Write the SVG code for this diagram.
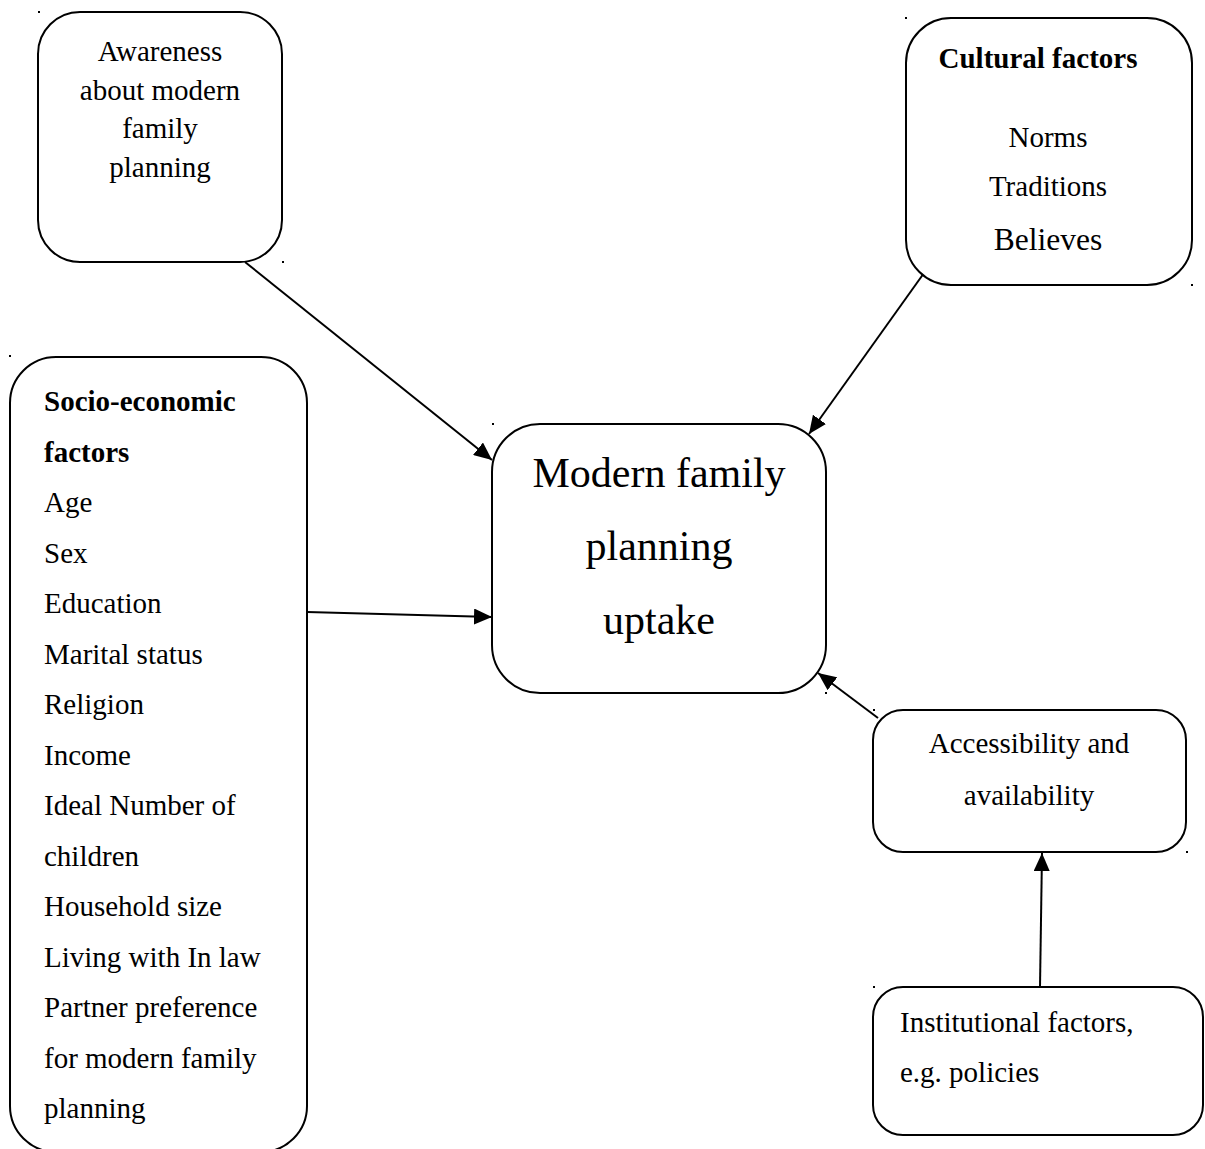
<svg xmlns="http://www.w3.org/2000/svg" width="1205" height="1149" viewBox="0 0 1205 1149">
<defs>
<marker id="arr" markerUnits="userSpaceOnUse" markerWidth="20" markerHeight="16" refX="18" refY="8" orient="auto">
<path d="M0,0 L18,8 L0,16 Z" fill="#000"/>
</marker>
<style>
.box{fill:#fff;stroke:#000;stroke-width:2}
.t{font-family:"Liberation Serif","Times New Roman",serif;font-size:29px;fill:#000}
.c{text-anchor:middle}
.b{font-weight:bold}
.con{stroke:#000;stroke-width:2;fill:none;marker-end:url(#arr)}
.dot{fill:#000}
</style>
</defs>
<rect width="1205" height="1149" fill="#fff"/>
<g id="connectors">
<line class="con" x1="245" y1="262" x2="492" y2="460"/>
<line class="con" x1="924" y1="273" x2="809" y2="434"/>
<line class="con" x1="307" y1="612" x2="492" y2="617"/>
<line class="con" x1="878" y1="718" x2="818" y2="673"/>
<line class="con" x1="1040" y1="987" x2="1042" y2="853"/>
</g>
<g id="awareness">
<rect class="box" x="38" y="12" width="244" height="250" rx="42" ry="42"/>
<text class="t c" x="160" y="61">Awareness</text>
<text class="t c" x="160" y="100">about modern</text>
<text class="t c" x="160" y="138">family</text>
<text class="t c" x="160" y="177">planning</text>
</g>
<g id="cultural">
<rect class="box" x="906" y="18" width="286" height="267" rx="45" ry="45"/>
<text class="t c b" x="1038" y="68">Cultural factors</text>
<text class="t c" x="1048" y="147">Norms</text>
<text class="t c" x="1048" y="196">Traditions</text>
<text class="t c" x="1048" y="250" style="font-size:31.5px">Believes</text>
</g>
<g id="main">
<rect class="box" x="492" y="424" width="334" height="269" rx="48" ry="48"/>
<text class="t c" x="659" y="487" style="font-size:42px">Modern family</text>
<text class="t c" x="659" y="560" style="font-size:42px">planning</text>
<text class="t c" x="659" y="634" style="font-size:42px">uptake</text>
</g>
<g id="socio">
<rect class="box" x="10" y="357" width="297" height="795" rx="46" ry="46"/>
<text class="t b" x="44" y="411">Socio-economic</text>
<text class="t b" x="44" y="462">factors</text>
<text class="t" x="44" y="512">Age</text>
<text class="t" x="44" y="563">Sex</text>
<text class="t" x="44" y="613">Education</text>
<text class="t" x="44" y="664">Marital status</text>
<text class="t" x="44" y="714">Religion</text>
<text class="t" x="44" y="765">Income</text>
<text class="t" x="44" y="815">Ideal Number of</text>
<text class="t" x="44" y="866">children</text>
<text class="t" x="44" y="916">Household size</text>
<text class="t" x="44" y="967">Living with In law</text>
<text class="t" x="44" y="1017">Partner preference</text>
<text class="t" x="44" y="1068">for modern family</text>
<text class="t" x="44" y="1118">planning</text>
</g>
<g id="accessibility">
<rect class="box" x="873" y="710" width="313" height="142" rx="30" ry="30"/>
<text class="t c" x="1029" y="753">Accessibility and</text>
<text class="t c" x="1029" y="805">availability</text>
</g>
<g id="institutional">
<rect class="box" x="873" y="987" width="330" height="148" rx="30" ry="30"/>
<text class="t" x="900" y="1032">Institutional factors,</text>
<text class="t" x="900" y="1082">e.g. policies</text>
</g>
<g id="marks">
<rect class="dot" x="38" y="11" width="2" height="2"/>
<rect class="dot" x="282" y="261" width="2" height="2"/>
<rect class="dot" x="905" y="17" width="2" height="2"/>
<rect class="dot" x="1191" y="284" width="2" height="2"/>
<rect class="dot" x="9" y="355" width="2" height="2"/>
<rect class="dot" x="492" y="423" width="2" height="2"/>
<rect class="dot" x="825" y="692" width="2" height="2"/>
<rect class="dot" x="873" y="709" width="2" height="2"/>
<rect class="dot" x="1186" y="851" width="2" height="2"/>
<rect class="dot" x="873" y="986" width="2" height="2"/>
</g>
</svg>
